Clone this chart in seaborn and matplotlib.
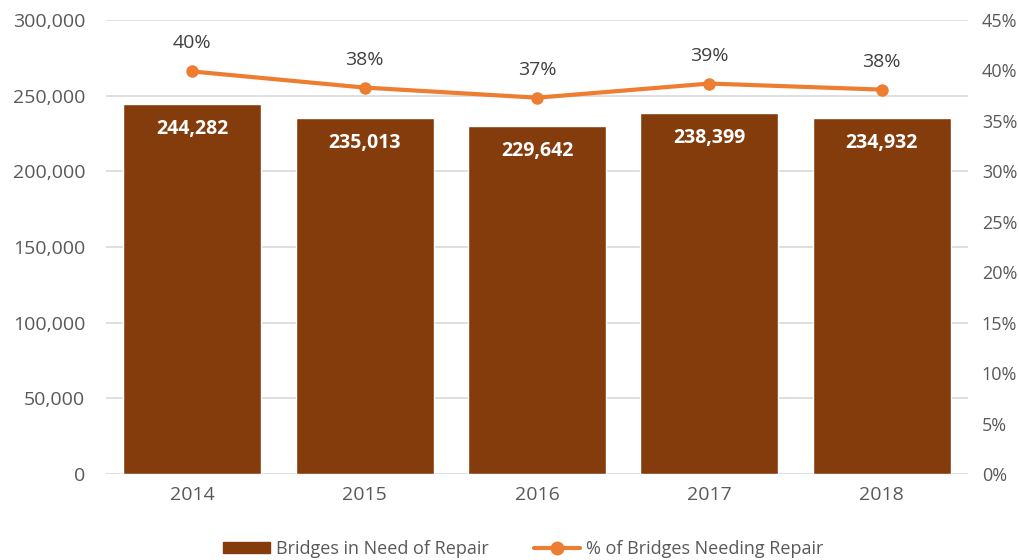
import matplotlib
matplotlib.use("Agg")
import matplotlib.pyplot as plt
import seaborn as sns
import pandas as pd
from matplotlib.ticker import FuncFormatter, MultipleLocator
from matplotlib.lines import Line2D
from matplotlib.patches import Patch

# data
years = ["2014", "2015", "2016", "2017", "2018"]
bridges = [244282, 235013, 229642, 238399, 234932]
pct_repair = [39.9, 38.3, 37.3, 38.7, 38.1]
pct_labels = ["40%", "38%", "37%", "39%", "38%"]

bar_color = "#843C0C"
line_color = "#ED7D31"
text_color = "#595959"

sns.set_style("white")
plt.rcParams["font.family"] = ["Open Sans", "DejaVu Sans"]

df = pd.DataFrame({"year": years, "bridges": bridges, "pct": pct_repair})

fig = plt.figure(figsize=(10.2, 5.6), dpi=100)
ax = fig.add_axes([0.1039, 0.1536, 0.8451, 0.8107])

sns.barplot(data=df, x="year", y="bridges", color=bar_color, width=0.8,
            saturation=1, ax=ax)
ax.set_xlim(-0.5, 4.5)
ax.set_ylim(0, 300000)
ax.yaxis.set_major_locator(MultipleLocator(50000))
ax.yaxis.set_major_formatter(FuncFormatter(lambda v, p: f"{int(v):,}"))
ax.grid(axis="y", color="#D9D9D9", linewidth=1.2)
ax.set_axisbelow(True)
ax.set_xlabel("")
ax.set_ylabel("")
ax.tick_params(axis="both", length=0, labelsize=14, colors=text_color)
ax.tick_params(axis="y", pad=15)
ax.tick_params(axis="x", pad=9)
for s in ax.spines.values():
    s.set_visible(False)

for i, v in enumerate(bridges):
    ax.annotate(f"{v:,}", (i, v), xytext=(0, -25), textcoords="offset pixels",
                ha="center", va="center", color="white", fontsize=14,
                fontweight="bold")

ax2 = ax.twinx()
xpos = list(range(len(years)))
sns.lineplot(x=xpos, y=pct_repair, color=line_color, linewidth=3,
             marker="o", markersize=9, markeredgewidth=0, ax=ax2)
ax2.set_ylim(0, 45)
ax2.yaxis.set_major_locator(MultipleLocator(5))
ax2.yaxis.set_major_formatter(FuncFormatter(lambda v, p: f"{int(v)}%"))
ax2.tick_params(axis="y", length=0, labelsize=13, colors=text_color, pad=10)
ax2.grid(False)
for s in ax2.spines.values():
    s.set_visible(False)
ax2.set_xlim(-0.5, 4.5)

for i, (v, lab) in enumerate(zip(pct_repair, pct_labels)):
    ax2.annotate(lab, (i, v), xytext=(0, 28), textcoords="offset pixels",
                 ha="center", va="center", color="#404040", fontsize=14)

handles = [Patch(color=bar_color, label="Bridges in Need of Repair"),
           Line2D([0], [0], color=line_color, linewidth=3, marker="o",
                  markersize=9, label="% of Bridges Needing Repair")]
fig.legend(handles=handles, loc="lower center", bbox_to_anchor=(0.513, -0.025),
           ncol=2, frameon=False, fontsize=13, labelcolor=text_color,
           handlelength=2.6, handleheight=0.55, handletextpad=0.3,
           columnspacing=2.5)

fig.savefig("out.png", dpi=100)
